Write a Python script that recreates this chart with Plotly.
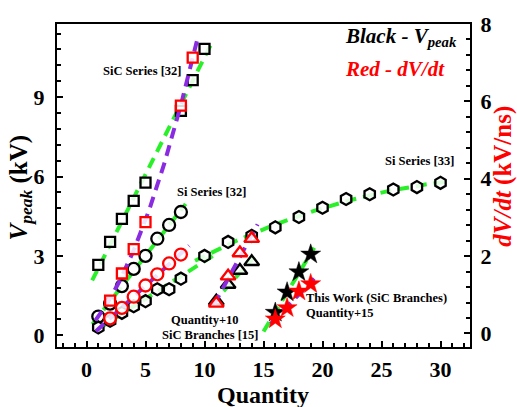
import numpy as np
import plotly.graph_objects as go

# ---------------- data ----------------
# SiC Series [32]
sic32_x = [1, 2, 3, 4, 5, 8, 9, 10]
sic32_v = [2.66, 3.53, 4.40, 5.08, 5.77, 8.48, 9.64, 10.82]
sic32_dvdt_x = [2, 3, 4, 5, 8, 9]
sic32_dvdt = [0.85, 1.55, 2.18, 2.88, 5.89, 7.13]

# Si Series [32]
si32_x = [1, 2, 3, 4, 5, 6, 7, 8]
si32_v = [0.71, 1.20, 1.86, 2.51, 3.00, 3.65, 4.17, 4.66]
si32_dvdt_x = [2, 3, 4, 5, 6, 7, 8]
si32_dvdt = [0.39, 0.66, 0.95, 1.24, 1.53, 1.81, 2.04]

# Si Series [33]
si33_x = [1, 2, 3, 4, 5, 6, 7, 8, 10, 12, 14, 16, 18, 20, 22, 24, 26, 28, 30]
si33_v = [0.30, 0.55, 0.85, 1.10, 1.29, 1.74, 1.74, 2.14, 3.00, 3.53, 3.76,
          4.08, 4.47, 4.82, 5.15, 5.33, 5.51, 5.60, 5.76]

# SiC Branches [15]  (Quantity + 10)
sicb_x = [11, 12, 13, 14]
sicb_v = [1.29, 1.92, 2.45, 2.78]
sicb_dvdt = [0.78, 1.48, 2.08, 2.45]

# This Work (SiC Branches)  (Quantity + 15)
tw_x = [16, 17, 18, 19]
tw_v = [0.86, 1.63, 2.39, 3.06]
tw_dvdt = [0.37, 0.66, 1.09, 1.28]

x_ticks = [0, 5, 10, 15, 20, 25, 30]
yl_ticks = [0, 3, 6, 9]
yr_ticks = [0, 2, 4, 6, 8]

GREEN = "#2af02a"
PURPLE = "#8a2be2"
FONT = "Liberation Serif"

fig = go.Figure()


def fit_curve(x, y, deg, x0, x1):
    c = np.polyfit(np.asarray(x, float), np.asarray(y, float), deg)
    xs = np.linspace(x0, x1, 80)
    return xs, np.polyval(c, xs)


def add_fit(x, y, deg, x0, x1, color, axis):
    xs, ys = fit_curve(x, y, deg, x0, x1)
    fig.add_trace(go.Scatter(x=xs, y=ys, mode="lines", yaxis=axis,
                             line=dict(color=color, width=4, dash="11px,7px"),
                             showlegend=False, hoverinfo="skip"))


def add_pts(x, y, symbol, color, size, axis, filled=False):
    if filled:
        m = dict(symbol=symbol, size=size, color=color,
                 line=dict(width=0.5, color=color))
    else:
        m = dict(symbol=symbol, size=size, color="rgba(255,255,255,0.85)",
                 line=dict(width=2.3, color=color))
    fig.add_trace(go.Scatter(x=x, y=y, mode="markers", yaxis=axis,
                             marker=m, showlegend=False))


# ---- V_peak fits (green, left axis) ----
add_fit(sic32_x, sic32_v, 1, 0.48, 10.6, GREEN, "y")
add_fit(si32_x, si32_v, 1, 0.5, 8.4, GREEN, "y")
lo = [i for i, xv in enumerate(si33_x) if xv <= 10]
hi = [i for i, xv in enumerate(si33_x) if xv >= 10]
add_fit([si33_x[i] for i in lo], [si33_v[i] for i in lo], 1, 0.9, 10.9, GREEN, "y")
add_fit([si33_x[i] for i in hi], [si33_v[i] for i in hi], 2, 9.2, 30.6, GREEN, "y")
add_fit(sicb_x, sicb_v, 1, 10.6, 14.2, GREEN, "y")
add_fit(tw_x, tw_v, 1, 15.0, 19.3, GREEN, "y")

# ---- V_peak markers (black, left axis) ----
add_pts(sic32_x, sic32_v, "square", "black", 10, "y")
add_pts(si32_x, si32_v, "circle", "black", 12, "y")
add_pts(si33_x, si33_v, "hexagon", "black", 12, "y")
add_pts(sicb_x, sicb_v, "triangle-up", "black", 13, "y")
add_pts(tw_x, tw_v, "star", "black", 15, "y", filled=True)

# ---- dV/dt fits (purple, right axis) ----
add_fit(sic32_dvdt_x, sic32_dvdt, 2, 0.76, 9.35, PURPLE, "y2")
add_fit(si32_dvdt_x, si32_dvdt, 1, 0.8, 8.7, PURPLE, "y2")
add_fit(sicb_x, sicb_dvdt, 1, 10.8, 14.5, PURPLE, "y2")
add_fit(tw_x, tw_dvdt, 1, 15.6, 19.3, PURPLE, "y2")

# ---- dV/dt markers (red, right axis) ----
add_pts(sic32_dvdt_x, sic32_dvdt, "square", "red", 10, "y2")
add_pts(si32_dvdt_x, si32_dvdt, "circle", "red", 12, "y2")
add_pts(sicb_x, sicb_dvdt, "triangle-up", "red", 13, "y2")
add_pts(tw_x, tw_dvdt, "star", "red", 15, "y2", filled=True)

tickfont = dict(family=FONT, size=22, color="black", weight="bold")

fig.update_layout(
    width=517, height=407,
    margin=dict(l=57, r=47, t=15, b=60),
    paper_bgcolor="white", plot_bgcolor="white",
    showlegend=False,
    font=dict(family=FONT, color="black"),
    xaxis=dict(range=[-2.5, 32.5], tickmode="array", tickvals=x_ticks,
               showline=True, linewidth=2, linecolor="black", mirror=True,
               ticks="inside", ticklen=6, tickwidth=2, tickcolor="black",
               minor=dict(dtick=1, tick0=0, ticks="inside", ticklen=4,
                          tickwidth=1.5, tickcolor="black"),
               tickfont=tickfont, showgrid=False, zeroline=False,
               ticklabelstandoff=2),
    yaxis=dict(range=[-0.44, 11.76], tickmode="array", tickvals=yl_ticks,
               showline=True, linewidth=2, linecolor="black",
               ticks="inside", ticklen=6, tickwidth=2, tickcolor="black",
               minor=dict(dtick=0.6, tick0=0, ticks="inside", ticklen=4,
                          tickwidth=1.5, tickcolor="black"),
               tickfont=tickfont, showgrid=False, zeroline=False,
               ticklabelstandoff=6),
    yaxis2=dict(range=[-0.35, 8.0], overlaying="y", side="right",
                tickmode="array", tickvals=yr_ticks,
                showline=True, linewidth=2, linecolor="black",
                ticks="inside", ticklen=6, tickwidth=2, tickcolor="black",
                minor=dict(dtick=0.4, tick0=0, ticks="inside", ticklen=4,
                           tickwidth=1.5, tickcolor="black"),
                tickfont=tickfont, showgrid=False, zeroline=False,
                ticklabelstandoff=4),
)

lab = dict(family=FONT, size=12.5, color="black", weight="bold")
ann = [
    dict(x=4.7, y=9.97, text="SiC Series [32]", xref="x", yref="y", font=lab),
    dict(x=10.6, y=5.43, text="Si Series [32]", xref="x", yref="y", font=lab),
    dict(x=28.2, y=6.6, text="Si Series [33]", xref="x", yref="y", font=lab),
    dict(x=10.0, y=0.58, text="Quantity+10", xref="x", yref="y", font=lab),
    dict(x=10.55, y=0.0, text="SiC Branches [15]", xref="x", yref="y", font=lab),
    dict(x=18.45, y=1.4, text="This Work (SiC Branches)", xref="x", yref="y",
         xanchor="left", font=lab),
    dict(x=18.45, y=0.84, text="Quantity+15", xref="x", yref="y",
         xanchor="left", font=lab),
    dict(x=(343 - 57) / 413, y=(347 - 28) / 332, xref="paper", yref="paper",
         text="<i>Black - V<sub>peak</sub></i>", xanchor="left",
         font=dict(family=FONT, size=21, color="black", weight="bold")),
    dict(x=(343 - 57) / 413, y=(347 - 61) / 332, xref="paper", yref="paper",
         text="<i>Red - dV/dt</i>", xanchor="left",
         font=dict(family=FONT, size=21, color="red", weight="bold")),
    dict(x=(263 - 57) / 413, y=(347 - 396) / 332, xref="paper", yref="paper",
         text="Quantity",
         font=dict(family=FONT, size=24, color="black", weight="bold")),
    dict(x=(20 - 57) / 413, y=(347 - 183) / 332, xref="paper", yref="paper",
         text="<i>V<sub>peak</sub></i> (kV)", textangle=-90,
         font=dict(family=FONT, size=25, color="black", weight="bold")),
    dict(x=(503 - 57) / 413, y=(347 - 172) / 332, xref="paper", yref="paper",
         text="<i>dV/dt</i> (kV/ns)", textangle=-90,
         font=dict(family=FONT, size=25, color="red", weight="bold")),
]
for a in ann:
    a.setdefault("showarrow", False)
    a.setdefault("xanchor", "center")
    a.setdefault("yanchor", "middle")
fig.update_layout(annotations=ann)

fig.write_html("out.html")
